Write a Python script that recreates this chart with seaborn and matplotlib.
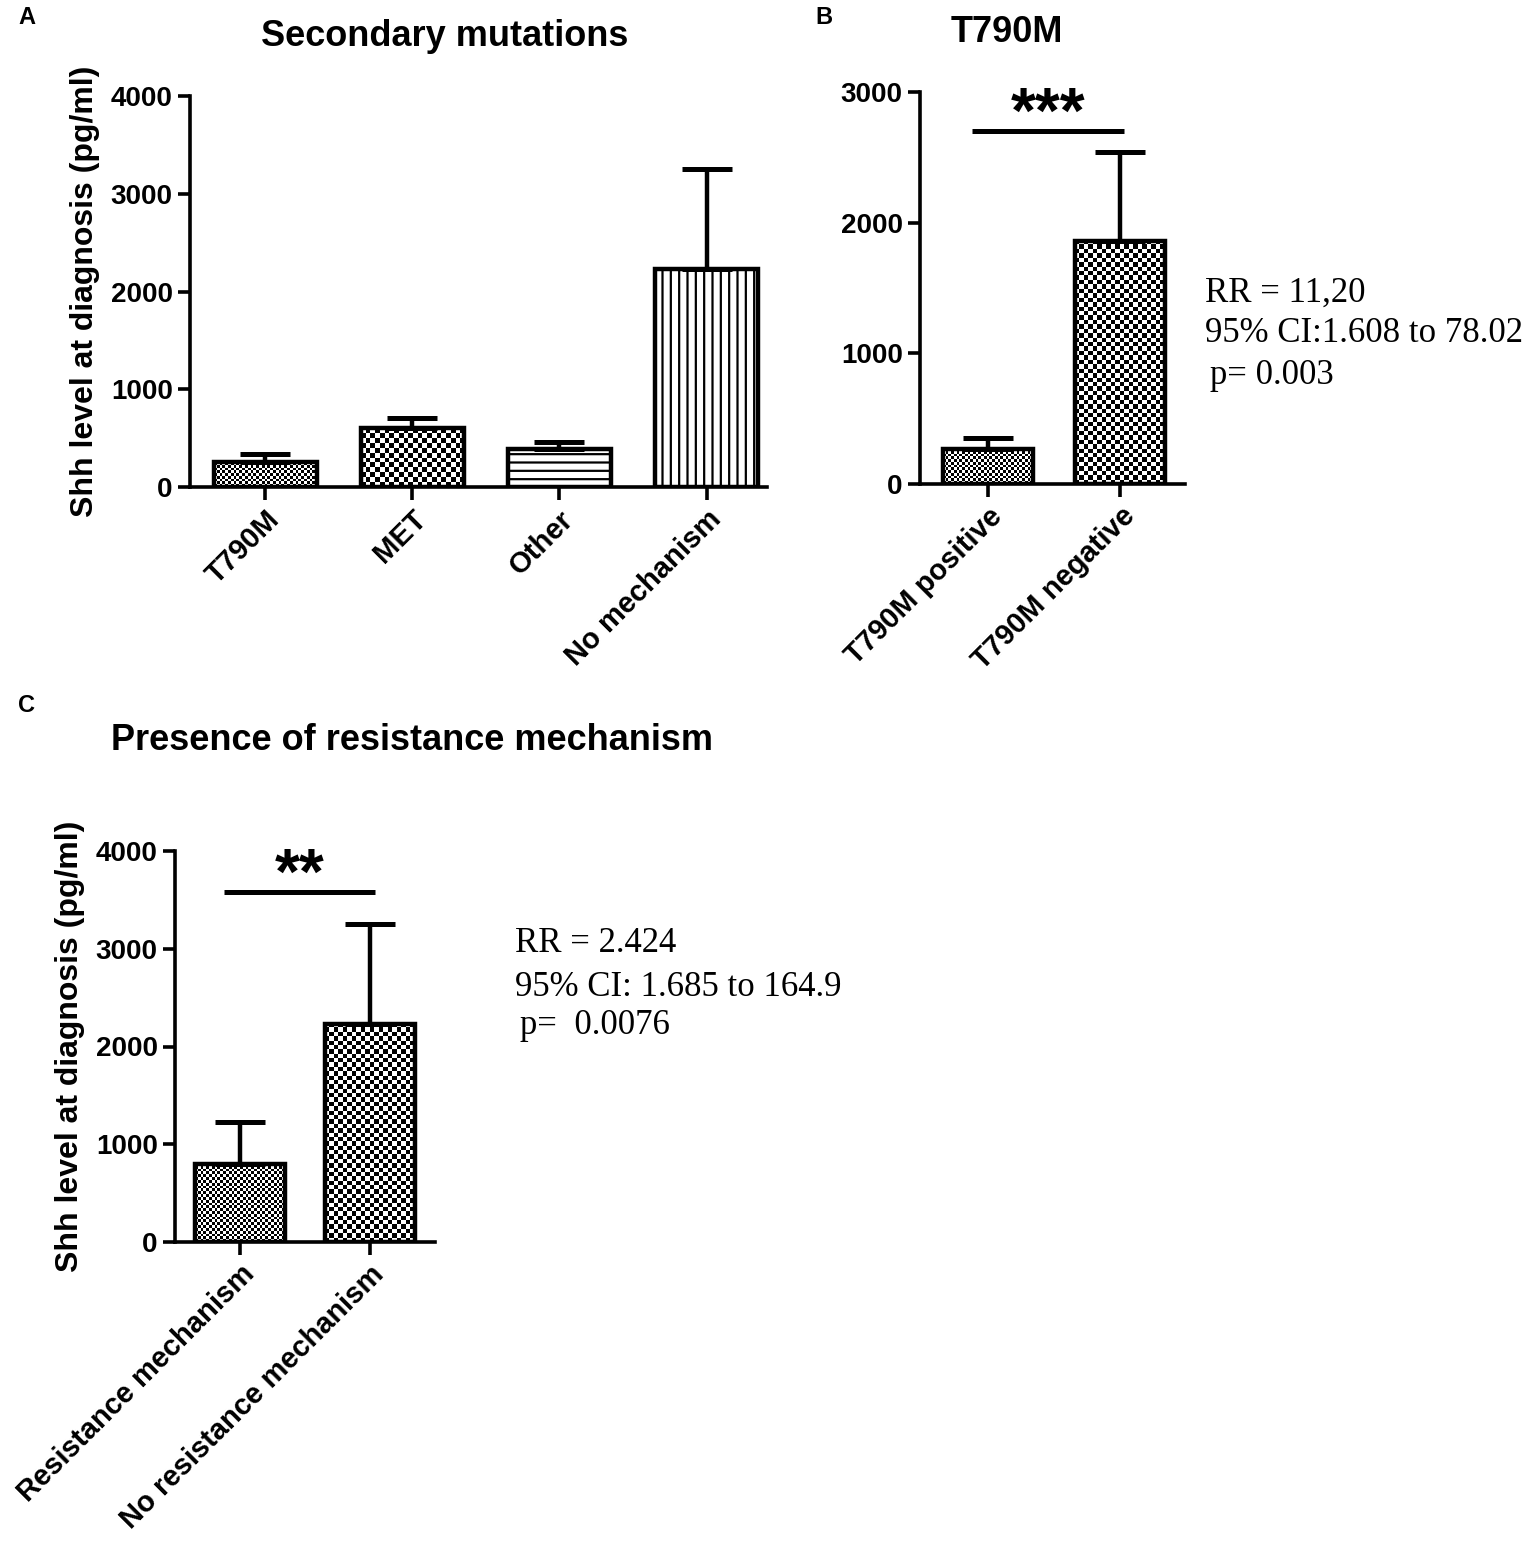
import numpy as np
import pandas as pd
import matplotlib
matplotlib.use('Agg')
import matplotlib.pyplot as plt
import matplotlib.transforms as mtransforms
import seaborn as sns

# A - secondary mutations
mut_groups = ['T790M', 'MET', 'Other', 'No mechanism']
mut_mean = [255, 600, 392, 2235]
mut_sem = [87, 102, 70, 1018]

# B - T790M status
t790_groups = ['T790M positive', 'T790M negative']
t790_mean = [268, 1860]
t790_sem = [82, 680]

# C - resistance mechanism
res_groups = ['Resistance mechanism', 'No resistance mechanism']
res_mean = [802, 2232]
res_sem = [428, 1022]

W, H = 1535, 1541

sns.set_theme(style='ticks')
plt.rcParams['font.family'] = ['Liberation Sans', 'DejaVu Sans']
plt.rcParams['text.color'] = 'black'
plt.rcParams['axes.labelcolor'] = 'black'
plt.rcParams['xtick.color'] = 'black'
plt.rcParams['ytick.color'] = 'black'
plt.rcParams['hatch.linewidth'] = 1.6
plt.rcParams['hatch.color'] = 'black'


def px_rect(l, t, r, b):
    return [l / W, 1 - b / H, (r - l) / W, (b - t) / H]


def checker(ax, patch, cell):
    x0, y0 = patch.get_x(), patch.get_y()
    x1, y1 = x0 + patch.get_width(), y0 + patch.get_height()
    (px0, py0), (px1, py1) = ax.transData.transform([(x0, y0), (x1, y1)])
    nx = max(1, int(round((px1 - px0) / cell)))
    ny = max(1, int(round((py1 - py0) / cell)))
    grid = np.indices((ny, nx)).sum(axis=0) % 2
    im = ax.imshow(grid, extent=(x0, x1, y0, y1), cmap='gray', vmin=0, vmax=1,
                   interpolation='nearest', aspect='auto', origin='lower', zorder=1)
    im.set_clip_path(patch)


def bar_panel(ax, groups, means, sems, fills, width, xlim, ylim, yticks, xfs=21):
    df = pd.DataFrame({'group': groups, 'mean': means})
    sns.barplot(data=df, x='group', y='mean', ax=ax, color='white', saturation=1,
                edgecolor='black', linewidth=3.2, width=width, errorbar=None, zorder=2)
    ax.set_xlim(*xlim)
    ax.set_ylim(*ylim)
    for patch, (kind, val) in zip(ax.patches, fills):
        if kind == 'checker':
            patch.set_facecolor('none')
            checker(ax, patch, val)
        else:
            patch.set_hatch(val)
    centers = [p.get_x() + p.get_width() / 2 for p in ax.patches]
    ax.errorbar(centers, means, yerr=[np.zeros(len(means)), sems], fmt='none',
                ecolor='black', elinewidth=3.2, capsize=18, capthick=3.6, zorder=3)
    ax.set_xlim(*xlim)
    ax.set_ylim(*ylim)
    ax.set_yticks(yticks)
    ax.set_yticklabels([str(t) for t in yticks], fontsize=20, fontweight='bold')
    ax.set_xticks(range(len(groups)))
    ax.set_xticklabels(groups, rotation=45, ha='right', va='top', rotation_mode='anchor',
                       fontsize=xfs, fontweight='bold')
    shift = mtransforms.ScaledTranslation(-6 / 100, 3 / 100, ax.figure.dpi_scale_trans)
    for lab in ax.get_xticklabels():
        lab.set_transform(lab.get_transform() + shift)
    ax.set_xlabel('')
    ax.set_ylabel('')
    sns.despine(ax=ax)
    for side in ['left', 'bottom']:
        ax.spines[side].set_linewidth(2.6)
        ax.spines[side].set_color('black')
    ax.tick_params(axis='both', width=2.6, length=9, direction='out', colors='black')
    ax.tick_params(axis='x', pad=4)
    ax.patch.set_alpha(0)


def sig_bar(ax, x0, x1, y, stars):
    ax.plot([x0, x1], [y, y], color='black', lw=3.6, clip_on=False, solid_capstyle='butt')
    ax.annotate(stars, xy=((x0 + x1) / 2, y), xytext=(0, -1), textcoords='offset points',
                ha='center', va='baseline', fontsize=46, fontweight='bold',
                annotation_clip=False)


fig = plt.figure(figsize=(W / 100, H / 100), dpi=100)

axA = fig.add_axes(px_rect(190, 96, 767, 487))
bar_panel(axA, mut_groups, mut_mean, mut_sem,
          [('checker', 2.8), ('checker', 4.7), ('hatch', '--'), ('hatch', '||')],
          0.70, (-0.51, 3.41), (0, 4000), [0, 1000, 2000, 3000, 4000])
axA.set_ylabel('Shh level at diagnosis (pg/ml)', fontsize=23, fontweight='bold', labelpad=8)

axB = fig.add_axes(px_rect(920, 92, 1185, 484))
bar_panel(axB, t790_groups, t790_mean, t790_sem,
          [('checker', 2.7), ('checker', 4.4)],
          0.68, (-0.515, 1.49), (0, 3000), [0, 1000, 2000, 3000])
sig_bar(axB, -0.12, 1.03, 2700, '***')

axC = fig.add_axes(px_rect(175, 851, 435, 1242))
bar_panel(axC, res_groups, res_mean, res_sem,
          [('checker', 2.8), ('checker', 4.4)],
          0.69, (-0.5, 1.5), (0, 4000), [0, 1000, 2000, 3000, 4000], xfs=21)
axC.set_ylabel('Shh level at diagnosis (pg/ml)', fontsize=23, fontweight='bold', labelpad=8)
sig_bar(axC, -0.12, 1.04, 3580, '**')

# panel letters and titles
fig.text(18 / W, 1 - 18 / H, 'A', fontsize=17, fontweight='bold', va='center')
fig.text(815 / W, 1 - 18 / H, 'B', fontsize=17, fontweight='bold', va='center')
fig.text(18 / W, 1 - 705 / H, 'C', fontsize=17, fontweight='bold', va='center')
fig.text(445 / W, 1 - 36 / H, 'Secondary mutations', fontsize=26, fontweight='bold',
         ha='center', va='center')
fig.text(1007 / W, 1 - 33 / H, 'T790M', fontsize=26, fontweight='bold',
         ha='center', va='center')
fig.text(412 / W, 1 - 741 / H, 'Presence of resistance mechanism', fontsize=26,
         fontweight='bold', ha='center', va='center')

# statistics text
serif = ['Liberation Serif', 'DejaVu Serif']
for x, y, s in [(1205, 293, 'RR = 11,20'), (1205, 334, '95% CI:1.608 to 78.02'),
                (1210, 375, 'p= 0.003'),
                (515, 943, 'RR = 2.424'), (515, 988, '95% CI: 1.685 to 164.9'),
                (520, 1025, 'p=  0.0076')]:
    fig.text(x / W, 1 - y / H, s, fontsize=25, family=serif, ha='left', va='center',
             color='black')

fig.savefig('out.png', dpi=100, facecolor='white')
